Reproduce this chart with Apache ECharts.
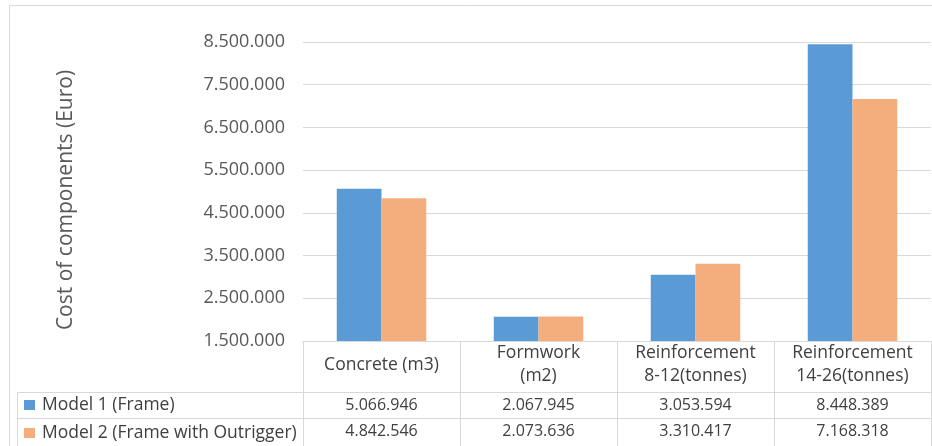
<!DOCTYPE html>
<html>
<head>
<meta charset="utf-8">
<script src="https://cdn.jsdelivr.net/npm/echarts@6/dist/echarts.min.js"></script>
<style>
html,body{margin:0;padding:0;background:#fff;}
#c{width:932px;height:446px;}
</style>
</head>
<body>
<div id="c"></div>
<script>
const categories = ['Concrete (m3)', 'Formwork\n(m2)', 'Reinforcement\n8-12(tonnes)', 'Reinforcement\n14-26(tonnes)'];
const seriesNames = ['Model 1 (Frame)', 'Model 2 (Frame with Outrigger)'];
const model1 = [5066946, 2067945, 3053594, 8448389];
const model2 = [4842546, 2073636, 3310417, 7168318];
const yTicks = [1500000, 2500000, 3500000, 4500000, 5500000, 6500000, 7500000, 8500000];
const yName = 'Cost of components (Euro)';

function fmt(v) { return String(v).replace(/\B(?=(\d{3})+(?!\d))/g, '.'); }

const FONT = 'Open Sans';
const GRIDC = '#d9d9d9';
const TXT = '#404040';

const chart = echarts.init(document.getElementById('c'), null, {renderer: 'canvas'});
chart.setOption({
  animation: false,
  backgroundColor: '#fff',
  textStyle: {fontFamily: FONT},
  color: ['#5b9bd5', '#f4ad7c'],
  grid: {left: 303, right: 1, top: 42, bottom: 105, containLabel: false},
  legend: {
    data: seriesNames,
    orient: 'vertical',
    left: 24, top: 396, padding: 0,
    itemWidth: 11, itemHeight: 10, itemGap: 10,
    icon: 'rect',
    textStyle: {fontFamily: FONT, fontSize: 17.5, color: TXT, lineHeight: 17, padding: [0,0,0,2]}
  },
  xAxis: [
    {
      type: 'category', data: categories, position: 'bottom',
      axisLine: {show: true, lineStyle: {color: GRIDC}},
      axisTick: {show: true, length: 105, lineStyle: {color: GRIDC}},
      axisLabel: {interval: 0, margin: 24, verticalAlign: 'middle', lineHeight: 23, fontSize: 17.5, color: TXT, fontFamily: FONT}
    },
    {
      type: 'category', data: categories, position: 'bottom', offset: 51,
      axisLine: {show: true, lineStyle: {color: GRIDC}},
      axisTick: {show: false},
      axisLabel: {interval: 0, margin: 13, verticalAlign: 'middle', fontSize: 16, color: TXT, fontFamily: FONT,
        formatter: (v, i) => fmt(model1[i])}
    },
    {
      type: 'category', data: categories, position: 'bottom', offset: 77,
      axisLine: {show: true, lineStyle: {color: GRIDC}},
      axisTick: {show: false},
      axisLabel: {interval: 0, margin: 13, verticalAlign: 'middle', fontSize: 16, color: TXT, fontFamily: FONT,
        formatter: (v, i) => fmt(model2[i])}
    }
  ],
  yAxis: {
    type: 'value', min: yTicks[0], max: yTicks[yTicks.length - 1],
    name: yName, nameLocation: 'middle', nameGap: 226, nameRotate: 90,
    nameTextStyle: {fontSize: 21, color: '#595959', fontFamily: FONT, padding: [0, 17, 0, 0]},
    axisLine: {show: false},
    axisTick: {show: false, customValues: yTicks},
    axisLabel: {customValues: yTicks, formatter: fmt, margin: 18, fontSize: 18, color: '#595959', fontFamily: FONT},
    splitLine: {show: true, lineStyle: {color: GRIDC, width: 1}}
  },
  series: [
    {name: seriesNames[0], type: 'bar', data: model1, barGap: 0, barCategoryGap: '43%', xAxisIndex: 0},
    {name: seriesNames[1], type: 'bar', data: model2, barGap: 0, barCategoryGap: '43%', xAxisIndex: 0}
  ],
  graphic: [
    {type: 'rect', shape: {x: 9.5, y: 5.5, width: 940, height: 460}, style: {fill: null, stroke: GRIDC, lineWidth: 1}, silent: true},
    {type: 'line', shape: {x1: 17, y1: 392.5, x2: 303, y2: 392.5}, style: {stroke: GRIDC, lineWidth: 1}},
    {type: 'line', shape: {x1: 17, y1: 418.5, x2: 303, y2: 418.5}, style: {stroke: GRIDC, lineWidth: 1}},
    {type: 'line', shape: {x1: 17.5, y1: 392, x2: 17.5, y2: 446}, style: {stroke: GRIDC, lineWidth: 1}}
  ]
});
</script>
</body>
</html>
